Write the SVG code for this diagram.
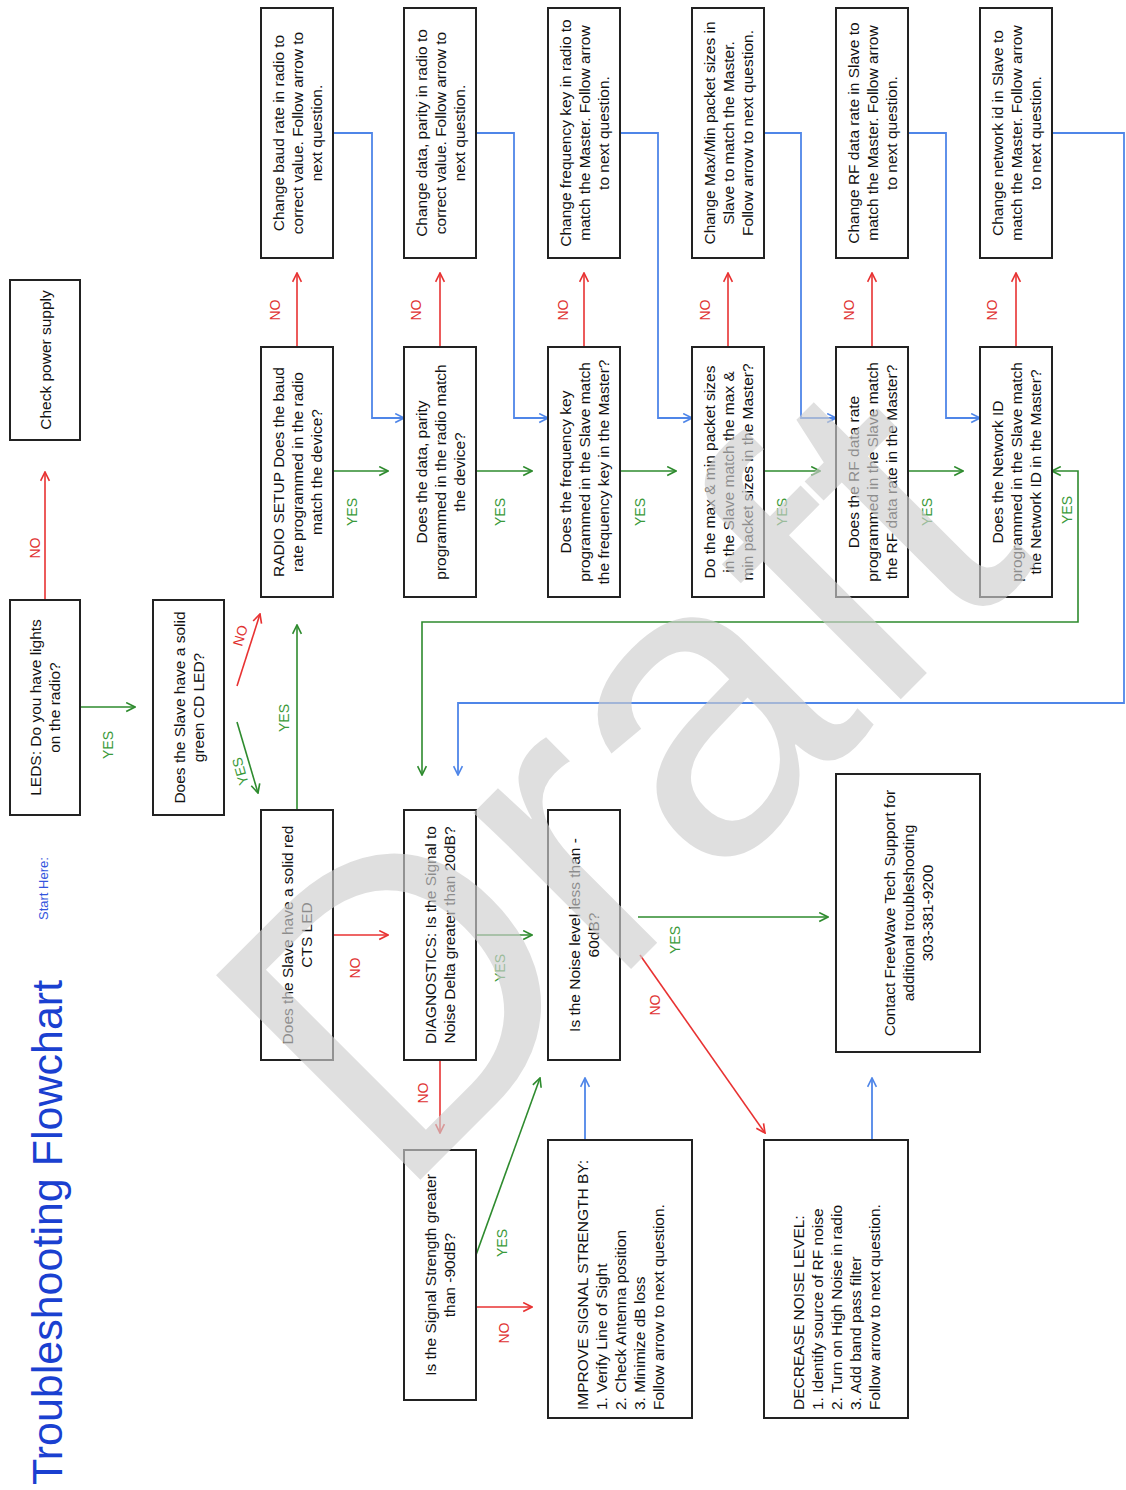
<svg xmlns="http://www.w3.org/2000/svg" width="1126" height="1490" viewBox="0 0 1126 1490">
<style>
.box{fill:#fff;stroke:#222;stroke-width:2}
.t{font-family:"Liberation Sans",Arial,sans-serif;font-size:15.5px;fill:#111}
.c{text-anchor:middle}
.lbl{font-family:"Liberation Sans",Arial,sans-serif;font-size:14px;text-anchor:middle}
.yes{fill:#3a9a3a}
.no{fill:#e03030}
.lg{stroke:#2e8b2e;stroke-width:1.6;fill:none}
.lr{stroke:#e83232;stroke-width:1.6;fill:none}
.lb{stroke:#4f86e8;stroke-width:1.8;fill:none}
.wm{font-family:"Liberation Sans",Arial,sans-serif;font-size:420px;fill:#cfcfcf;opacity:0.65}
</style>
<defs>
<marker id="ag" viewBox="0 0 10 10" refX="9" refY="5" markerWidth="11" markerHeight="11" markerUnits="userSpaceOnUse" orient="auto"><path d="M1,1 L9,5 L1,9" fill="none" stroke="#2e8b2e" stroke-width="1.5"/></marker>
<marker id="ar" viewBox="0 0 10 10" refX="9" refY="5" markerWidth="11" markerHeight="11" markerUnits="userSpaceOnUse" orient="auto"><path d="M1,1 L9,5 L1,9" fill="none" stroke="#e83232" stroke-width="1.5"/></marker>
<marker id="ab" viewBox="0 0 10 10" refX="9" refY="5" markerWidth="11" markerHeight="11" markerUnits="userSpaceOnUse" orient="auto"><path d="M1,1 L9,5 L1,9" fill="none" stroke="#4f86e8" stroke-width="1.5"/></marker>
<marker id="ags" viewBox="0 0 10 10" refX="1" refY="5" markerWidth="11" markerHeight="11" markerUnits="userSpaceOnUse" orient="auto"><path d="M9,1 L1,5 L9,9" fill="none" stroke="#2e8b2e" stroke-width="1.5"/></marker>
</defs>

<text transform="translate(62,1485) rotate(-90)" style="font-family:'Liberation Sans',Arial,sans-serif;font-size:43px;fill:#1a40d0">Troubleshooting Flowchart</text>
<text transform="translate(48,920) rotate(-90)" style="font-family:'Liberation Sans',Arial,sans-serif;font-size:13px;fill:#3355dd">Start Here:</text>

<g id="connectors">
<path class="lr" d="M45,600 V472" marker-end="url(#ar)"/>
<path class="lg" d="M80,707 H135" marker-end="url(#ag)"/>
<path class="lr" d="M237,686 L260,614" marker-end="url(#ar)"/>
<path class="lg" d="M237,722 L258,793" marker-end="url(#ag)"/>
<path class="lg" d="M297,810 V625" marker-end="url(#ag)"/>

<path class="lr" d="M297,347 V273" marker-end="url(#ar)"/>
<path class="lr" d="M440,347 V273" marker-end="url(#ar)"/>
<path class="lr" d="M584,347 V273" marker-end="url(#ar)"/>
<path class="lr" d="M728,347 V273" marker-end="url(#ar)"/>
<path class="lr" d="M872,347 V273" marker-end="url(#ar)"/>
<path class="lr" d="M1016,347 V273" marker-end="url(#ar)"/>

<path class="lg" d="M333,471 H388" marker-end="url(#ag)"/>
<path class="lg" d="M476,471 H532" marker-end="url(#ag)"/>
<path class="lg" d="M620,471 H676" marker-end="url(#ag)"/>
<path class="lg" d="M764,471 H820" marker-end="url(#ag)"/>
<path class="lg" d="M908,471 H963" marker-end="url(#ag)"/>

<path class="lb" d="M333,133 H372 V418 H404" marker-end="url(#ab)"/>
<path class="lb" d="M476,133 H514 V418 H548" marker-end="url(#ab)"/>
<path class="lb" d="M620,133 H658 V418 H692" marker-end="url(#ab)"/>
<path class="lb" d="M764,133 H801 V418 H836" marker-end="url(#ab)"/>
<path class="lb" d="M908,133 H946 V418 H980" marker-end="url(#ab)"/>

<path class="lg" d="M1052,471 H1078 V622 H422 V775" marker-start="url(#ags)" marker-end="url(#ag)"/>
<path class="lb" d="M1052,133 H1124 V703 H458 V775" marker-end="url(#ab)"/>

<path class="lr" d="M333,935 H388" marker-end="url(#ar)"/>
<path class="lg" d="M476,935 H532" marker-end="url(#ag)"/>
<path class="lr" d="M440,1060 V1133" marker-end="url(#ar)"/>
<path class="lg" d="M638,917 H828" marker-end="url(#ag)"/>
<path class="lr" d="M640,955 L765,1133" marker-end="url(#ar)"/>
<path class="lg" d="M476,1255 L540,1078" marker-end="url(#ag)"/>
<path class="lr" d="M476,1307 H532" marker-end="url(#ar)"/>
<path class="lb" d="M585,1140 V1078" marker-end="url(#ab)"/>
<path class="lb" d="M872,1140 V1078" marker-end="url(#ab)"/>

<text class="lbl no" transform="translate(40,548) rotate(-90)">NO</text>
<text class="lbl yes" transform="translate(113,745) rotate(-90)">YES</text>
<text class="lbl no" transform="translate(245,637) rotate(-74)">NO</text>
<text class="lbl yes" transform="translate(245,770) rotate(-106)">YES</text>
<text class="lbl yes" transform="translate(289,718) rotate(-90)">YES</text>

<text class="lbl no" transform="translate(280,310) rotate(-90)">NO</text>
<text class="lbl no" transform="translate(421,310) rotate(-90)">NO</text>
<text class="lbl no" transform="translate(568,310) rotate(-90)">NO</text>
<text class="lbl no" transform="translate(710,310) rotate(-90)">NO</text>
<text class="lbl no" transform="translate(854,310) rotate(-90)">NO</text>
<text class="lbl no" transform="translate(997,310) rotate(-90)">NO</text>

<text class="lbl yes" transform="translate(357,512) rotate(-90)">YES</text>
<text class="lbl yes" transform="translate(505,512) rotate(-90)">YES</text>
<text class="lbl yes" transform="translate(645,512) rotate(-90)">YES</text>
<text class="lbl yes" transform="translate(787,512) rotate(-90)">YES</text>
<text class="lbl yes" transform="translate(932,512) rotate(-90)">YES</text>
<text class="lbl yes" transform="translate(1072,510) rotate(-90)">YES</text>

<text class="lbl no" transform="translate(360,968) rotate(-90)">NO</text>
<text class="lbl yes" transform="translate(505,968) rotate(-90)">YES</text>
<text class="lbl no" transform="translate(428,1093) rotate(-90)">NO</text>
<text class="lbl yes" transform="translate(680,940) rotate(-90)">YES</text>
<text class="lbl no" transform="translate(660,1005) rotate(-90)">NO</text>
<text class="lbl yes" transform="translate(507,1243) rotate(-90)">YES</text>
<text class="lbl no" transform="translate(509,1333) rotate(-90)">NO</text>
</g>

<g id="power"><rect class="box" x="10" y="280" width="70" height="160"/>
<text class="t c" transform="translate(50.5,360) rotate(-90)">Check power supply</text></g>

<g id="leds"><rect class="box" x="10" y="600" width="70" height="215"/>
<text class="t c" transform="translate(41,707.5) rotate(-90)"><tspan x="0" y="0">LEDS: Do you have lights</tspan><tspan x="0" dy="19">on the radio?</tspan></text></g>

<g id="greenled"><rect class="box" x="153" y="600" width="71" height="215"/>
<text class="t c" transform="translate(184.5,707.5) rotate(-90)"><tspan x="0" y="0">Does the Slave have a solid</tspan><tspan x="0" dy="19">green CD LED?</tspan></text></g>

<g id="q1"><rect class="box" x="261" y="347" width="72" height="250"/>
<text class="t c" transform="translate(283.5,472) rotate(-90)"><tspan x="0" y="0">RADIO SETUP Does the baud</tspan><tspan x="0" dy="19">rate programmed in the radio</tspan><tspan x="0" dy="19">match the device?</tspan></text></g>
<g id="q2"><rect class="box" x="404" y="347" width="72" height="250"/>
<text class="t c" transform="translate(426.5,472) rotate(-90)"><tspan x="0" y="0">Does the data, parity</tspan><tspan x="0" dy="19">programmed in the radio match</tspan><tspan x="0" dy="19">the device?</tspan></text></g>
<g id="q3"><rect class="box" x="548" y="347" width="72" height="250"/>
<text class="t c" transform="translate(570.5,472) rotate(-90)"><tspan x="0" y="0">Does the frequency key</tspan><tspan x="0" dy="19">programmed in the Slave match</tspan><tspan x="0" dy="19">the frequency key in the Master?</tspan></text></g>
<g id="q4"><rect class="box" x="692" y="347" width="72" height="250"/>
<text class="t c" transform="translate(714.5,472) rotate(-90)"><tspan x="0" y="0">Do the max &amp; min packet sizes</tspan><tspan x="0" dy="19">in the Slave match the max &amp;</tspan><tspan x="0" dy="19">min packet sizes in the Master?</tspan></text></g>
<g id="q5"><rect class="box" x="836" y="347" width="72" height="250"/>
<text class="t c" transform="translate(858.5,472) rotate(-90)"><tspan x="0" y="0">Does the RF data rate</tspan><tspan x="0" dy="19">programmed in the Slave match</tspan><tspan x="0" dy="19">the RF data rate in the Master?</tspan></text></g>
<g id="q6"><rect class="box" x="980" y="347" width="72" height="250"/>
<text class="t c" transform="translate(1002.5,472) rotate(-90)"><tspan x="0" y="0">Does the Network ID</tspan><tspan x="0" dy="19">programmed in the Slave match</tspan><tspan x="0" dy="19">the Network ID in the Master?</tspan></text></g>

<g id="c1"><rect class="box" x="261" y="8" width="72" height="250"/>
<text class="t c" transform="translate(283.5,133) rotate(-90)"><tspan x="0" y="0">Change baud rate in radio to</tspan><tspan x="0" dy="19">correct value.  Follow arrow to</tspan><tspan x="0" dy="19">next question.</tspan></text></g>
<g id="c2"><rect class="box" x="404" y="8" width="72" height="250"/>
<text class="t c" transform="translate(426.5,133) rotate(-90)"><tspan x="0" y="0">Change data, parity in radio to</tspan><tspan x="0" dy="19">correct value.  Follow arrow to</tspan><tspan x="0" dy="19">next question.</tspan></text></g>
<g id="c3"><rect class="box" x="548" y="8" width="72" height="250"/>
<text class="t c" transform="translate(570.5,133) rotate(-90)"><tspan x="0" y="0">Change frequency key in radio to</tspan><tspan x="0" dy="19">match the Master.  Follow arrow</tspan><tspan x="0" dy="19">to next question.</tspan></text></g>
<g id="c4"><rect class="box" x="692" y="8" width="72" height="250"/>
<text class="t c" transform="translate(714.5,133) rotate(-90)"><tspan x="0" y="0">Change Max/Min packet sizes in</tspan><tspan x="0" dy="19">Slave to match the Master.</tspan><tspan x="0" dy="19">Follow arrow to next question.</tspan></text></g>
<g id="c5"><rect class="box" x="836" y="8" width="72" height="250"/>
<text class="t c" transform="translate(858.5,133) rotate(-90)"><tspan x="0" y="0">Change RF data rate in Slave to</tspan><tspan x="0" dy="19">match the Master.  Follow arrow</tspan><tspan x="0" dy="19">to next question.</tspan></text></g>
<g id="c6"><rect class="box" x="980" y="8" width="72" height="250"/>
<text class="t c" transform="translate(1002.5,133) rotate(-90)"><tspan x="0" y="0">Change network id in Slave to</tspan><tspan x="0" dy="19">match the Master.  Follow arrow</tspan><tspan x="0" dy="19">to next question.</tspan></text></g>

<g id="cts"><rect class="box" x="261" y="810" width="72" height="250"/>
<text class="t c" transform="translate(293,935) rotate(-90)"><tspan x="0" y="0">Does the Slave have a solid red</tspan><tspan x="0" dy="19">CTS LED</tspan></text></g>
<g id="diag"><rect class="box" x="404" y="810" width="72" height="250"/>
<text class="t c" transform="translate(436,935) rotate(-90)"><tspan x="0" y="0">DIAGNOSTICS: Is the Signal to</tspan><tspan x="0" dy="19">Noise Delta greater than 20dB?</tspan></text></g>
<g id="noise"><rect class="box" x="548" y="810" width="72" height="250"/>
<text class="t c" transform="translate(580,935) rotate(-90)"><tspan x="0" y="0">Is the Noise level less than -</tspan><tspan x="0" dy="19">60dB?</tspan></text></g>
<g id="signal"><rect class="box" x="404" y="1150" width="72" height="250"/>
<text class="t c" transform="translate(436,1275) rotate(-90)"><tspan x="0" y="0">Is the Signal Strength greater</tspan><tspan x="0" dy="19">than -90dB?</tspan></text></g>
<g id="improve"><rect class="box" x="548" y="1140" width="144" height="278"/>
<text class="t" transform="translate(587.5,1410) rotate(-90)"><tspan x="0" y="0">IMPROVE SIGNAL STRENGTH BY:</tspan><tspan x="0" dy="19">1. Verify Line of Sight</tspan><tspan x="0" dy="19">2. Check Antenna position</tspan><tspan x="0" dy="19">3. Minimize dB loss</tspan><tspan x="0" dy="19">Follow arrow to next question.</tspan></text></g>
<g id="contact"><rect class="box" x="836" y="774" width="144" height="278"/>
<text class="t c" transform="translate(894.5,913) rotate(-90)"><tspan x="0" y="0">Contact FreeWave Tech Support for</tspan><tspan x="0" dy="19">additional troubleshooting</tspan><tspan x="0" dy="19">303-381-9200</tspan></text></g>
<g id="decrease"><rect class="box" x="764" y="1140" width="144" height="278"/>
<text class="t" transform="translate(803.5,1410) rotate(-90)"><tspan x="0" y="0">DECREASE NOISE LEVEL:</tspan><tspan x="0" dy="19">1. Identify source of RF noise</tspan><tspan x="0" dy="19">2. Turn on High Noise in radio</tspan><tspan x="0" dy="19">3. Add band pass filter</tspan><tspan x="0" dy="19">Follow arrow to next question.</tspan></text></g>

<text class="wm" transform="translate(396,1204) rotate(-45)">Draft</text>
</svg>
